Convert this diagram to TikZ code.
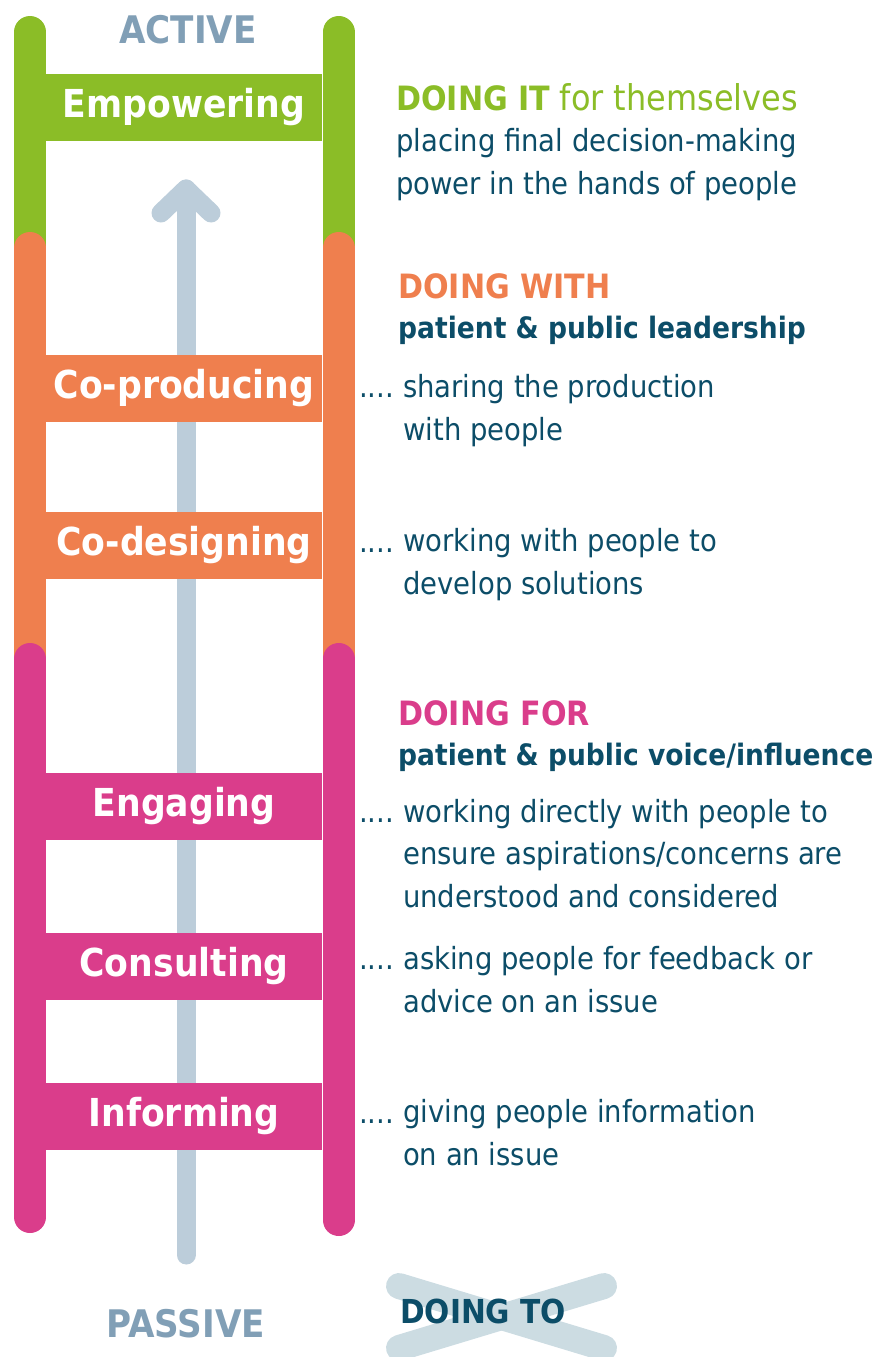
\documentclass[tikz,border=0pt]{standalone}
\usepackage{fontspec}
\setmainfont{DejaVu Sans Condensed}
\definecolor{lgreen}{HTML}{8BBD27}
\definecolor{lorange}{HTML}{EF7F4E}
\definecolor{lpink}{HTML}{DA3D8B}
\definecolor{larrow}{HTML}{BCCDDA}
\definecolor{lteal}{HTML}{0C4D68}
\definecolor{lgrey}{HTML}{819FB6}
\definecolor{lcross}{HTML}{CCDCE2}
\newcommand{\rungfont}{\fontsize{38.5}{44}\selectfont\bfseries}
\newcommand{\bodyfont}{\fontsize{30.5}{42.5}\selectfont}
\newcommand{\subfont}{\fontsize{29.5}{40}\selectfont\bfseries}
\newcommand{\headfont}{\fontsize{33.5}{40}\selectfont}
\begin{document}
\begin{tikzpicture}[x=1pt,y=-1pt,
  rail/.style={line width=32pt,line cap=round},
  rung/.style={minimum width=276pt,minimum height=67pt,inner sep=0pt,text=white,font=\rungfont,text height=29pt,text depth=9pt},
  body/.style={anchor=base west,align=left,inner sep=0pt,text=lteal,font=\bodyfont},
  dots/.style={anchor=base west,inner sep=0pt,text=lteal,font=\bodyfont},
  sub/.style={anchor=base west,inner sep=0pt,text=lteal,font=\subfont},
  head/.style={anchor=base west,inner sep=0pt,font=\headfont},
  pole/.style={anchor=base,inner sep=0pt,text=lgrey,font=\fontsize{38}{44}\selectfont\bfseries}]
\useasboundingbox (0,0) rectangle (883,1357);

% arrow
\coordinate (abot) at (186,1255);
\coordinate (atop) at (186,189);
\coordinate (al) at (161,213);
\coordinate (ar) at (211,213);
\draw[larrow,line width=19pt,line cap=round] (abot) -- (atop);
\draw[larrow,line width=19pt,line cap=round,line join=round] (al) -- (atop) -- (ar);

% rails
\draw[rail,lgreen] (30,32) -- (30,262);
\draw[rail,lgreen] (338.5,32) -- (338.5,262);
\draw[rail,lorange] (30,248) -- (30,662);
\draw[rail,lorange] (338.5,248) -- (338.5,662);
\draw[rail,lpink] (30,659) -- (30,1217);
\draw[rail,lpink] (338.5,659) -- (338.5,1220);

% rungs
\node[rung,fill=lgreen] (emp) at (184,107.5) {Empowering};
\node[rung,fill=lorange] (cop) at (184,388) {Co-producing};
\node[rung,fill=lorange] (cod) at (184,545) {Co-designing};
\node[rung,fill=lpink] (eng) at (184,806.5) {Engaging};
\node[rung,fill=lpink] (con) at (184,966.5) {Consulting};
\node[rung,fill=lpink] (inf) at (184,1116) {Informing};

% poles
\node[pole] (active) at (188,43) {ACTIVE};
\node[pole] (passive) at (186,1337) {PASSIVE};

% doing to
\draw[lcross,line width=26pt,line cap=round] (399,1286) -- (604,1348);
\draw[lcross,line width=26pt,line cap=round] (604,1286) -- (399,1348);
\node[anchor=base west,inner sep=0pt,text=lteal,font=\fontsize{33}{40}\selectfont\bfseries] (dto) at (400,1323) {DOING TO};

% right texts (multi-line nodes: base = last line)
\node[head,text=lgreen] (h1) at (396,110) {\textbf{DOING IT} {\fontsize{35.5}{40}\selectfont for themselves}};
\node[body] (t1) at (396,194) {placing final decision-making\\power in the hands of people};

\node[head,text=lorange,font=\headfont\bfseries] (h2) at (398,298) {DOING WITH};
\node[sub] (s2) at (398,338) {patient \& public leadership};
\node[dots] (d1) at (359,397) {....};
\node[body] (t2) at (403,440) {sharing the production\\with people};
\node[dots] (d2) at (359,552) {....};
\node[body] (t3) at (403,594) {working with people to\\develop solutions};

\node[head,text=lpink,font=\headfont\bfseries] (h3) at (398,725) {DOING FOR};
\node[sub] (s3) at (398,765) {patient \& public voice/influence};
\node[dots] (d3) at (359,822) {....};
\node[body] (t4) at (403,907) {working directly with people to\\ensure aspirations/concerns are\\understood and considered};
\node[dots] (d4) at (359,969) {....};
\node[body] (t5) at (403,1012) {asking people for feedback or\\advice on an issue};
\node[dots] (d5) at (359,1123) {....};
\node[body] (t6) at (403,1165) {giving people information\\on an issue};
\end{tikzpicture}
\end{document}
